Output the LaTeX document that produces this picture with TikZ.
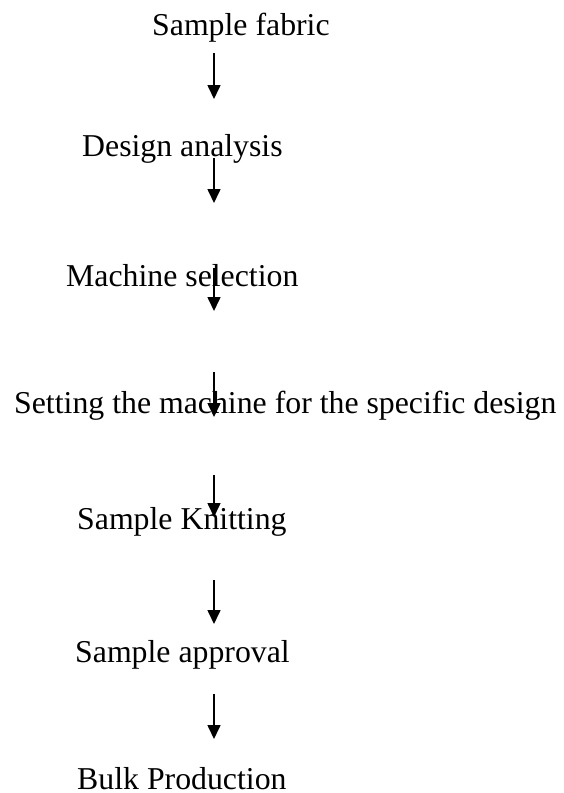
\documentclass[tikz,border=0pt]{standalone}
\usepackage{fontspec}
\setmainfont{Liberation Serif}
\usetikzlibrary{arrows.meta}
\begin{document}
\begin{tikzpicture}[x=1pt,y=-1pt,
  steplabel/.style={anchor=base west,inner sep=0pt,font=\fontsize{31.8}{36}\selectfont},
  flow/.style={line width=1.6pt,-{Triangle[width=13pt,length=14pt]}}]
\useasboundingbox (0,0) rectangle (563,793);
% process steps, top to bottom
\node[steplabel] (fabric)   at (152,35)  {Sample fabric};
\node[steplabel] (design)   at (82,156)  {Design analysis};
\node[steplabel] (machine)  at (66,286)  {Machine selection};
\node[steplabel] (setting)  at (14,413)  {Setting the machine for the specific design};
\node[steplabel] (knitting) at (77,529)  {Sample Knitting};
\node[steplabel] (approval) at (75,662)  {Sample approval};
\node[steplabel] (bulk)     at (77,789)  {Bulk Production};
% arrow end points
\coordinate (a1s) at (214,53);  \coordinate (a1e) at (214,99);
\coordinate (a2s) at (214,158); \coordinate (a2e) at (214,203);
\coordinate (a3s) at (214,268); \coordinate (a3e) at (214,311);
\coordinate (a4s) at (214,372); \coordinate (a4e) at (214,417);
\coordinate (a5s) at (214,475); \coordinate (a5e) at (214,517);
\coordinate (a6s) at (214,580); \coordinate (a6e) at (214,624);
\coordinate (a7s) at (214,694); \coordinate (a7e) at (214,739);
\foreach \i in {1,...,7} \draw[flow] (a\i s) -- (a\i e);
\end{tikzpicture}
\end{document}
